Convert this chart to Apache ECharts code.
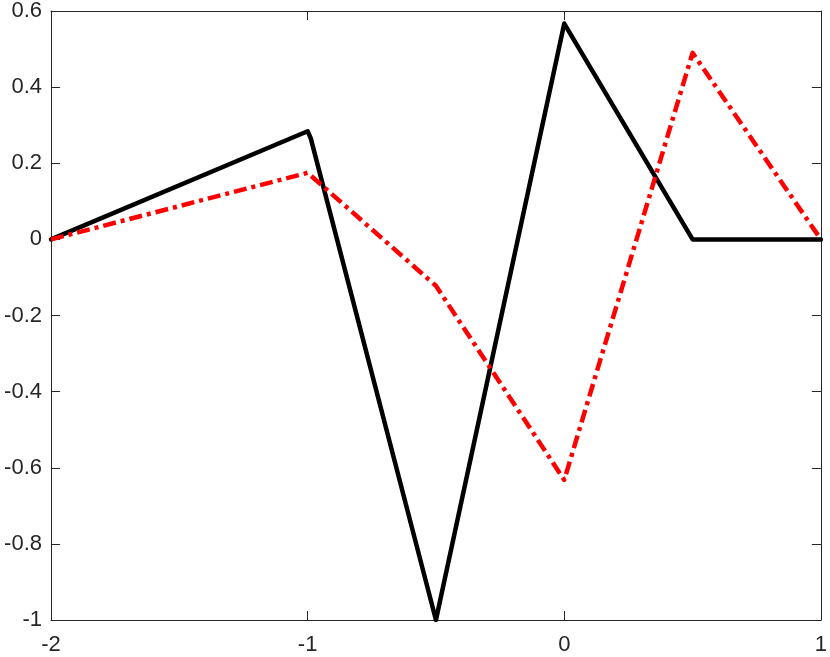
<!DOCTYPE html>
<html>
<head>
<meta charset="utf-8">
<script src="https://cdn.jsdelivr.net/npm/echarts@6/dist/echarts.min.js"></script>
<style>
  html, body { margin: 0; padding: 0; background: #fff; }
  #chart { width: 830px; height: 657px; }
</style>
</head>
<body>
<div id="chart"></div>
<script>
// black solid curve
const blackX = [-2, -1, -0.988, -0.5, 0, 0.5, 1];
const blackY = [0, 0.284, 0.266, -1, 0.567, 0, 0];
// red dash-dot curve
const redX = [-2, -1, -0.5, 0, 0.5, 1];
const redY = [0, 0.175, -0.122, -0.632, 0.49, 0];

const xTicks = [-2, -1, 0, 1];
const yTicks = [-1, -0.8, -0.6, -0.4, -0.2, 0, 0.2, 0.4, 0.6];

const pairs = (xs, ys) => xs.map((x, i) => [x, ys[i]]);

const axisColor = '#262626';
const font = 'Liberation Sans, Arial, sans-serif';

const chart = echarts.init(document.getElementById('chart'));

const baseAxis = {
  axisLine: { show: true, onZero: false, lineStyle: { color: axisColor, width: 1 } },
  axisTick: { show: true, inside: true, length: 9, lineStyle: { color: axisColor } },
  splitLine: { show: false }
};

chart.setOption({
  animation: false,
  grid: { left: 51, right: 4, top: 8, bottom: 37 },
  xAxis: [
    Object.assign({}, baseAxis, {
      type: 'value', min: xTicks[0], max: xTicks[xTicks.length - 1], interval: 1,
      position: 'bottom',
      axisLabel: { color: axisColor, fontSize: 22, fontFamily: font, margin: 14 }
    }),
    Object.assign({}, baseAxis, {
      type: 'value', min: xTicks[0], max: xTicks[xTicks.length - 1], interval: 1,
      position: 'top',
      axisLabel: { show: false }
    })
  ],
  yAxis: [
    Object.assign({}, baseAxis, {
      type: 'value', min: yTicks[0], max: yTicks[yTicks.length - 1], interval: 0.2,
      position: 'left',
      axisLabel: {
        color: axisColor, fontSize: 22, fontFamily: font, margin: 9,
        formatter: v => String(Math.round(v * 10) / 10)
      }
    }),
    Object.assign({}, baseAxis, {
      type: 'value', min: yTicks[0], max: yTicks[yTicks.length - 1], interval: 0.2,
      position: 'right',
      axisLabel: { show: false }
    })
  ],
  series: [
    {
      type: 'line',
      data: pairs(blackX, blackY),
      showSymbol: false,
      lineStyle: { color: '#000000', width: 4.5, join: 'round', cap: 'round' }
    },
    {
      type: 'line',
      data: pairs(redX, redY),
      showSymbol: false,
      lineStyle: { color: '#ff0000', width: 4.5, type: [13, 5, 4, 5], join: 'round' }
    }
  ]
});
</script>
</body>
</html>
